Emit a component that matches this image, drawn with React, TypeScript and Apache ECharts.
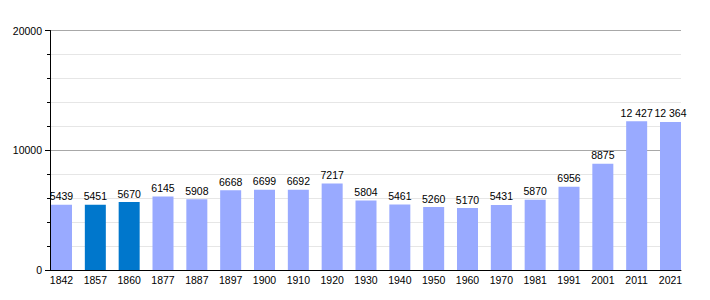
import React, { useEffect, useRef } from "react";
import * as echarts from "echarts";

const years = ["1842", "1857", "1860", "1877", "1887", "1897", "1900", "1910", "1920", "1930", "1940", "1950", "1960", "1970", "1981", "1991", "2001", "2011", "2021"];
const population = [5439, 5451, 5670, 6145, 5908, 6668, 6699, 6692, 7217, 5804, 5461, 5260, 5170, 5431, 5870, 6956, 8875, 12427, 12364];
const highlighted = ["1857", "1860"];
const yTickLabels = [0, 10000, 20000];

const LIGHT = "#99aaff";
const DARK = "#0077cc";
const FONT = "Liberation Sans, Arial, sans-serif";

function fmt(v: number): string {
  if (v >= 10000) {
    const s = String(v);
    return s.slice(0, s.length - 3) + " " + s.slice(s.length - 3);
  }
  return String(v);
}

export default function App() {
  const ref = useRef<HTMLDivElement>(null);
  useEffect(() => {
    if (!ref.current) return;
    const chart = echarts.init(ref.current, undefined, { renderer: "svg" });
    const plotLeft = 50;
    const plotRight = 681;
    const top = 30.5;
    const bottom = 270;
    const n = years.length;
    const barW = 21;
    // bars span exactly from plotLeft+1 to plotRight
    const catW = (plotRight - (plotLeft + 1) - barW) / (n - 1);
    const gap = catW - barW;
    const g0Left = plotLeft + 1 - gap / 2;
    const g0Width = catW * n;
    chart.setOption({
      animation: false,
      backgroundColor: "#ffffff",
      grid: [
        { left: g0Left, top: top, width: g0Width, height: bottom - top },
        { left: plotLeft, top: top, width: plotRight - plotLeft, height: bottom - top },
      ],
      xAxis: [
        {
          type: "category",
          gridIndex: 0,
          data: years,
          boundaryGap: true,
          axisLine: { show: false },
          axisTick: { show: false },
          axisLabel: { show: true, color: "#000", fontFamily: FONT, fontSize: 10.5, margin: 4, interval: 0 },
          splitLine: { show: false },
        },
        {
          type: "value",
          gridIndex: 1,
          min: 0,
          max: 1,
          axisLine: { show: true, lineStyle: { color: "#000", width: 1 } },
          axisTick: { show: false },
          axisLabel: { show: false },
          splitLine: { show: false },
        },
      ],
      yAxis: [
        {
          type: "value",
          gridIndex: 0,
          min: 0,
          max: 20000,
          show: false,
          splitLine: { show: false },
        },
        {
          type: "value",
          gridIndex: 1,
          min: 0,
          max: 20000,
          interval: 10000,
          axisLine: { show: true, lineStyle: { color: "#000", width: 1 } },
          axisTick: { show: true, length: 5, lineStyle: { color: "#000" } },
          minorTick: { show: true, splitNumber: 5, length: 3, lineStyle: { color: "#000" } },
          axisLabel: {
            show: true,
            color: "#000",
            fontFamily: FONT,
            fontSize: 10.5,
            margin: 8,
            formatter: (v: number) => (yTickLabels.indexOf(v) >= 0 ? String(v) : ""),
          },
          splitLine: { show: true, lineStyle: { color: "#a8a8a8", width: 1 } },
          minorSplitLine: { show: true, lineStyle: { color: "#e6e6e6", width: 1 } },
        },
      ],
      series: [
        {
          type: "bar",
          xAxisIndex: 0,
          yAxisIndex: 0,
          barWidth: barW,
          data: population.map((v, i) => ({
            value: v,
            itemStyle: { color: highlighted.indexOf(years[i]) >= 0 ? DARK : LIGHT },
          })),
          label: {
            show: true,
            position: "top",
            distance: 3,
            color: "#000",
            fontFamily: FONT,
            fontSize: 10.5,
            formatter: (p: any) => fmt(p.value),
          },
        },
      ],
    });
    return () => chart.dispose();
  }, []);
  return <div ref={ref} style={{ position: "fixed", left: 0, top: 0, width: 710, height: 300 }} />;
}
